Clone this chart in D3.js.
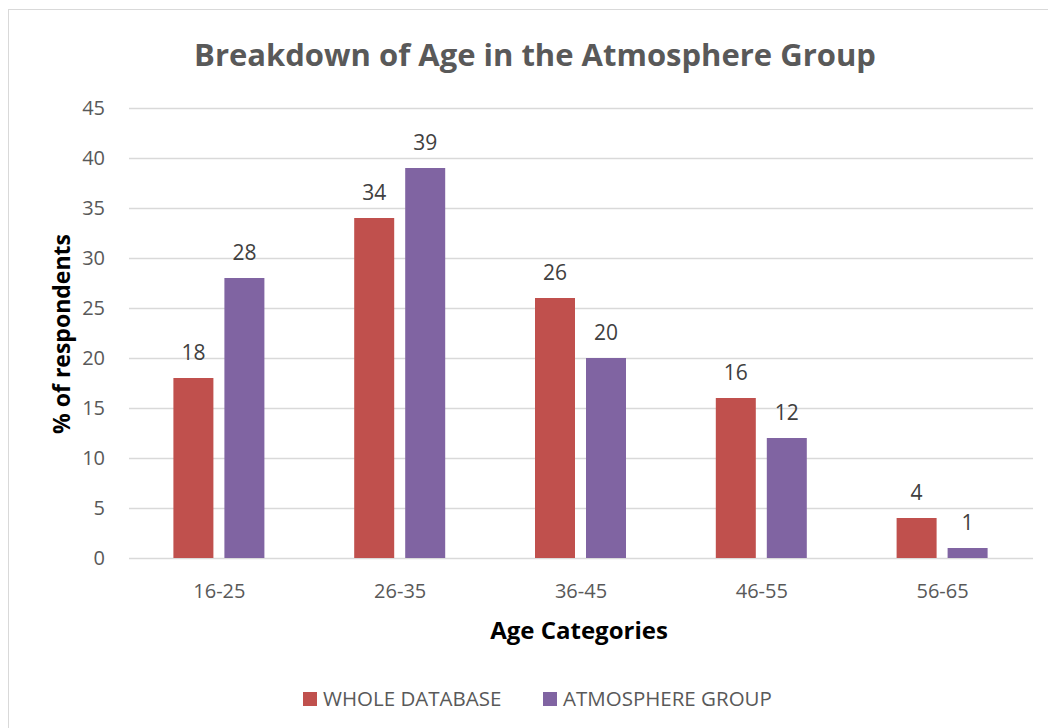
<!DOCTYPE html>
<html>
<head>
<meta charset="utf-8">
<script src="https://cdn.jsdelivr.net/npm/d3@7"></script>
<style>
  body { margin: 0; background: #fff; }
  text { font-family: "Open Sans", "Liberation Sans", sans-serif; }
</style>
</head>
<body>
<svg id="chart" width="1048" height="728"></svg>
<script>
var categories = ["16-25", "26-35", "36-45", "46-55", "56-65"];
var seriesNames = ["WHOLE DATABASE", "ATMOSPHERE GROUP"];
var wholeDatabase = [18, 34, 26, 16, 4];
var atmosphereGroup = [28, 39, 20, 12, 1];
var yTicks = [0, 5, 10, 15, 20, 25, 30, 35, 40, 45];
var colors = ["#C0504D", "#8064A2"];

var svg = d3.select('#chart');

// outer frame
svg.append('rect')
  .attr('x', 8.5).attr('y', 9.5)
  .attr('width', 1048).attr('height', 728)
  .attr('fill', '#fff')
  .attr('stroke', '#d9d9d9');

var plot = { left: 129, right: 1033, top: 108, bottom: 558 };

var x = d3.scaleBand().domain(categories).range([plot.left, plot.right]);
var y = d3.scaleLinear().domain([0, 45]).range([plot.bottom, plot.top]);

// gridlines
svg.append('g').selectAll('line')
  .data(yTicks)
  .enter().append('line')
  .attr('x1', plot.left).attr('x2', plot.right)
  .attr('y1', function(d){ return y(d) + 0.5; })
  .attr('y2', function(d){ return y(d) + 0.5; })
  .attr('stroke', '#d9d9d9')
  .attr('stroke-width', 1.3);

// y tick labels
svg.append('g').selectAll('text')
  .data(yTicks)
  .enter().append('text')
  .attr('x', 105)
  .attr('y', function(d){ return y(d); })
  .attr('dy', '0.35em')
  .attr('text-anchor', 'end')
  .attr('font-size', 20)
  .attr('fill', '#595959')
  .text(function(d){ return d; });

// x tick labels
svg.append('g').selectAll('text')
  .data(categories)
  .enter().append('text')
  .attr('x', function(d){ return x(d) + x.bandwidth() / 2; })
  .attr('y', 598)
  .attr('text-anchor', 'middle')
  .attr('font-size', 20)
  .attr('fill', '#595959')
  .text(function(d){ return d; });

var barW = 40, gap = 11;
var series = [wholeDatabase, atmosphereGroup];

series.forEach(function(vals, s){
  var g = svg.append('g');
  var offset = s === 0 ? -(gap / 2 + barW) : gap / 2;
  g.selectAll('rect')
    .data(vals)
    .enter().append('rect')
    .attr('x', function(d, i){ return x(categories[i]) + x.bandwidth() / 2 + offset - 0.5; })
    .attr('y', function(d){ return y(d); })
    .attr('width', barW)
    .attr('height', function(d){ return y(0) - y(d); })
    .attr('fill', colors[s]);
  g.selectAll('text')
    .data(vals)
    .enter().append('text')
    .attr('x', function(d, i){ return x(categories[i]) + x.bandwidth() / 2 + offset + barW / 2 - 0.5; })
    .attr('y', function(d){ return y(d) - 18.5; })
    .attr('text-anchor', 'middle')
    .attr('font-size', 21)
    .attr('fill', '#404040')
    .text(function(d){ return d; });
});

// title
svg.append('text')
  .attr('x', 535).attr('y', 66)
  .attr('text-anchor', 'middle')
  .attr('font-size', 31)
  .attr('font-weight', 'bold')
  .attr('fill', '#595959')
  .text('Breakdown of Age in the Atmosphere Group');

// axis titles
svg.append('text')
  .attr('transform', 'translate(70,334) rotate(-90)')
  .attr('text-anchor', 'middle')
  .attr('font-size', 23)
  .attr('font-weight', 'bold')
  .attr('fill', '#000')
  .text('% of respondents');

svg.append('text')
  .attr('x', 579).attr('y', 639)
  .attr('text-anchor', 'middle')
  .attr('font-size', 24)
  .attr('font-weight', 'bold')
  .attr('fill', '#000')
  .text('Age Categories');

// legend
var legendX = [303, 543];
var leg = svg.append('g').selectAll('g')
  .data(seriesNames)
  .enter().append('g')
  .attr('transform', function(d, i){ return 'translate(' + legendX[i] + ',692)'; });
leg.append('rect')
  .attr('width', 14).attr('height', 14)
  .attr('fill', function(d, i){ return colors[i]; });
leg.append('text')
  .attr('x', 20).attr('y', 7)
  .attr('dy', '0.35em')
  .attr('font-size', 20.5)
  .attr('fill', '#595959')
  .text(function(d){ return d; });
</script>
</body>
</html>
